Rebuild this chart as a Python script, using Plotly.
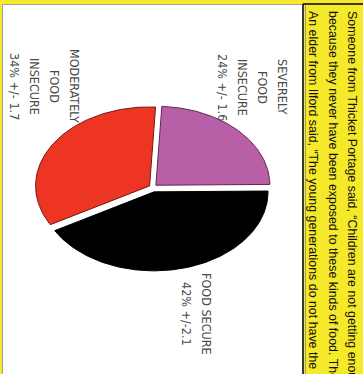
import numpy as np
import plotly.graph_objects as go

# ---- data ----
categories = ["SEVERELY FOOD INSECURE", "FOOD SECURE", "MODERATELY FOOD INSECURE"]
percent = [24, 42, 34]
margin_err = ["1.6", "2.1", "1.7"]
label_lines = [
    ["SEVERELY", "FOOD", "INSECURE", "24% +/- 1.6"],
    ["FOOD SECURE", "42% +/-2.1"],
    ["MODERATELY", "FOOD", "INSECURE", "34% +/- 1.7"],
]
slice_colors = ["#B95FA7", "#000000", "#EE3524"]
edge_colors = ["#5A2A55", "#000000", "#6E1A12"]
quote_lines = [
    "Someone from Thicket Portage said, \u201cChildren are not getting enough",
    "because they never have been exposed to these kinds of food. They",
    "An elder from Ilford said, \u201cThe young generations do not have the",
]

W, H = 363, 374
fig = go.Figure()

# elliptical exploded pie, drawn clockwise from near the top
cx, cy, A, B, D = 153, 188, 114, 79, 4
start = 87.0
total = sum(percent)
ang = start
for i, v in enumerate(percent):
    span = 360.0 * v / total
    t = np.radians(np.linspace(ang, ang - span, 120))
    tm = np.radians(ang - span / 2)
    ox, oy = D * np.cos(tm), -D * np.sin(tm)
    xs = np.concatenate([[cx], cx + A * np.cos(t), [cx]]) + ox
    ys = np.concatenate([[cy], cy - B * np.sin(t), [cy]]) + oy
    fig.add_trace(go.Scatter(x=xs, y=ys, mode="lines", fill="toself",
                             fillcolor=slice_colors[i],
                             line=dict(color=edge_colors[i], width=1),
                             hoverinfo="skip", name=categories[i], showlegend=False))
    ang -= span

# frame shapes
shapes = [
    dict(type="rect", xref="x", yref="y", x0=0, x1=W, y0=0, y1=4, fillcolor="#F5E92A", line_width=0, layer="below"),
    dict(type="rect", xref="x", yref="y", x0=0, x1=2, y0=0, y1=H, fillcolor="#F5E92A", line_width=0, layer="below"),
    dict(type="line", xref="x", yref="y", x0=2.5, x1=2.5, y0=4, y1=H, line=dict(color="#A0A0A0", width=1)),
    dict(type="line", xref="x", yref="y", x0=2.5, x1=303, y0=4.5, y1=4.5, line=dict(color="#A0A0A0", width=1)),
    dict(type="rect", xref="x", yref="y", x0=303, x1=W, y0=0, y1=H, fillcolor="#F5E92A", line_width=0, layer="below"),
    dict(type="line", xref="x", yref="y", x0=303, x1=303, y0=4, y1=H, line=dict(color="#000000", width=1.5)),
    dict(type="line", xref="x", yref="y", x0=303, x1=W, y0=4, y1=4, line=dict(color="#000000", width=1.5)),
    dict(type="line", xref="x", yref="y", x0=305.5, x1=305.5, y0=5, y1=H, line=dict(color="#9A9A9A", width=1)),
]

annotations = []
label_font = dict(family="Liberation Sans Narrow, DejaVu Sans Condensed, sans-serif", size=12.5, color="#4A4A4A")
label_pos = [(283, 87), (207, 314), (75, 86)]
for lines, (x0, yc) in zip(label_lines, label_pos):
    for j, txt in enumerate(lines):
        annotations.append(dict(x=x0 - 20 * j, y=yc, xref="x", yref="y", text=txt,
                                showarrow=False, textangle=90, font=label_font,
                                xanchor="center", yanchor="middle"))

quote_x = [352, 333, 313]
for txt, qx in zip(quote_lines, quote_x):
    annotations.append(dict(x=qx, y=9, xref="x", yref="y", text=txt, showarrow=False,
                            textangle=90, font=dict(family="Liberation Sans, Arial, sans-serif", size=12.4, color="#111111"),
                            xanchor="center", yanchor="top"))

fig.update_layout(
    width=W, height=H, margin=dict(l=0, r=0, t=0, b=0),
    paper_bgcolor="white", plot_bgcolor="white",
    xaxis=dict(range=[0, W], visible=False, fixedrange=True),
    yaxis=dict(range=[H, 0], visible=False, fixedrange=True),
    shapes=shapes, annotations=annotations, showlegend=False,
)
fig.write_html("out.html", config={"staticPlot": True},
               post_script="document.body.style.margin='0';document.body.style.overflow='hidden';")
